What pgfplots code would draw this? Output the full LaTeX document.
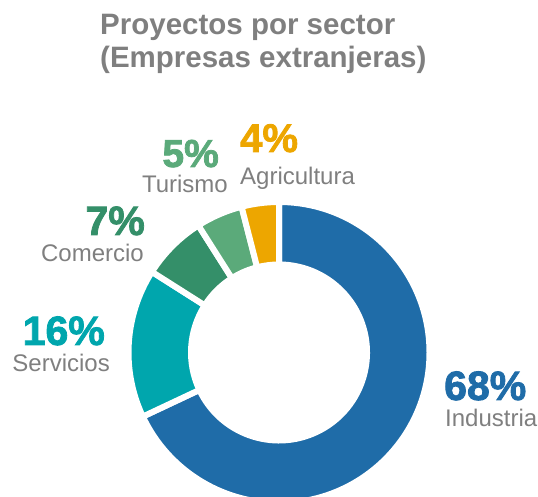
\documentclass[border=0pt]{standalone}
\usepackage{pgfplots}
\pgfplotsset{compat=1.18}
\usepackage{fontspec}
\setmainfont{Liberation Sans}
\newfontfamily\heavy[FakeBold=2]{Liberation Sans Bold}
\definecolor{cInd}{HTML}{1F6CA8}
\definecolor{cSer}{HTML}{00A6AD}
\definecolor{cCom}{HTML}{348F69}
\definecolor{cTur}{HTML}{5BAA7A}
\definecolor{cAgr}{HTML}{EDA600}
\definecolor{txtgray}{HTML}{7F7F7F}
\begin{document}
\begin{tikzpicture}
\begin{axis}[
  at={(0,0)}, anchor=south west,
  scale only axis, width=538pt, height=497pt,
  xmin=0, xmax=538, ymin=0, ymax=497,
  hide axis, clip=false,
]
\addplot[draw=none, forget plot] coordinates {(0,0) (538,497)};
\pgfplotsextra{
  \gdef\cumang{90}
  \foreach \v/\c in {68/cInd, 16/cSer, 7/cCom, 5/cTur, 4/cAgr} {
    \pgfmathsetmacro\endang{\cumang-3.6*\v}
    \filldraw[fill=\c, draw=white, line width=6pt, line join=miter]
      (axis cs:279,144.5) ++(\cumang:150.5pt) arc[start angle=\cumang, end angle=\endang, radius=150.5pt]
      -- ++(\endang:-62.5pt) arc[start angle=\endang, end angle=\cumang, radius=88pt] -- cycle;
    \xdef\cumang{\endang}
  }
}
% title
\node[anchor=base west, inner sep=0, text=txtgray, font=\bfseries\fontsize{29.5}{29.5}\selectfont] at (axis cs:100,462) {Proyectos por sector};
\node[anchor=base west, inner sep=0, text=txtgray, font=\bfseries\fontsize{29.5}{29.5}\selectfont] at (axis cs:100,429) {(Empresas extranjeras)};
% labels
\node[anchor=base west, inner sep=0, text=cInd, font=\heavy\fontsize{41}{41}\selectfont] at (axis cs:444,97) {68\%};
\node[anchor=base west, inner sep=0, text=txtgray, font=\fontsize{24}{24}\selectfont] at (axis cs:445,70) {Industria};
\node[anchor=base east, inner sep=0, text=cSer, font=\heavy\fontsize{41}{41}\selectfont] at (axis cs:105,152) {16\%};
\node[anchor=base east, inner sep=0, text=txtgray, font=\fontsize{24}{24}\selectfont] at (axis cs:110,125) {Servicios};
\node[anchor=base east, inner sep=0, text=cCom, font=\heavy\fontsize{41}{41}\selectfont] at (axis cs:145,262) {7\%};
\node[anchor=base east, inner sep=0, text=txtgray, font=\fontsize{24}{24}\selectfont] at (axis cs:144,235) {Comercio};
\node[anchor=base east, inner sep=0, text=cTur, font=\heavy\fontsize{39}{39}\selectfont] at (axis cs:219,330) {5\%};
\node[anchor=base east, inner sep=0, text=txtgray, font=\fontsize{24}{24}\selectfont] at (axis cs:228,304) {Turismo};
\node[anchor=base west, inner sep=0, text=cAgr, font=\heavy\fontsize{40}{40}\selectfont] at (axis cs:240,345) {4\%};
\node[anchor=base west, inner sep=0, text=txtgray, font=\fontsize{24}{24}\selectfont] at (axis cs:240,312) {Agricultura};
\end{axis}
\pgfresetboundingbox
\path[use as bounding box] (0,0) rectangle (538pt,497pt);
\end{tikzpicture}
\end{document}
